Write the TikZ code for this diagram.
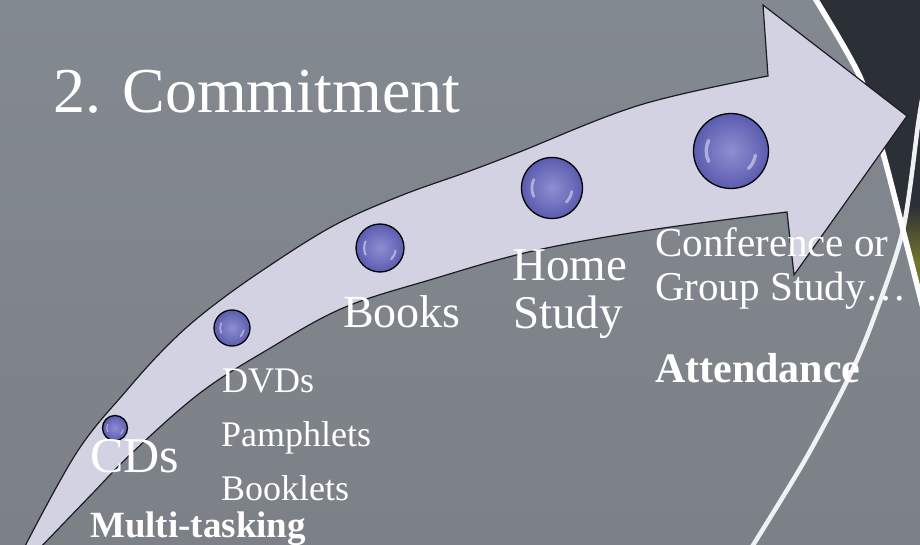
\documentclass[tikz,border=0pt]{standalone}
\usepackage{fontspec}
\setmainfont{Liberation Serif}
\usetikzlibrary{calc}
\definecolor{bgtop}{HTML}{838990}
\definecolor{bgbot}{HTML}{7C8187}
\definecolor{darkzone}{HTML}{2B2F36}
\definecolor{olive}{HTML}{74742C}
\definecolor{arrowfill}{HTML}{D2D2E2}
\definecolor{arrowline}{HTML}{1C1C24}
\definecolor{orbin}{HTML}{8E8ED2}
\definecolor{orbout}{HTML}{5C5CB0}
\tikzset{
  txt/.style={text=white, inner sep=0pt, anchor=base west},
  orb/.style={circle, draw=black, line width=1.3pt, inner sep=0pt,
    inner color=orbin, outer color=orbout},
  hl/.style={white, opacity=0.45, line cap=round},
  streak/.style={line cap=round},
}
\newcommand\orbnode[4]{%
  \node[orb, minimum size=2*#4] (#1) at (#2,#3) {};
  \draw[hl, line width=0.09*#4] ([shift={(155:0.66*#4)}]#1.center) arc[start angle=155, end angle=205, radius=0.66*#4];
  \draw[hl, line width=0.09*#4] ([shift={(10:0.66*#4)}]#1.center) arc[start angle=10, end angle=45, radius=0.66*#4];
}
\begin{document}
\begin{tikzpicture}[x=1pt,y=-1pt]
\useasboundingbox (0,0) rectangle (920,545);
% background
\shade[top color=bgtop, bottom color=bgbot] (0,0) rectangle (920,545);
% dark zone at the right
\begin{scope}
  \clip plot[smooth] coordinates {(813,-5) (860,77) (883,153) (903,230) (924,312)} -- (930,312) -- (930,-5) -- cycle;
  \fill[darkzone] (780,-5) rectangle (930,205);
  \shade[top color=darkzone, bottom color=olive] (780,205) rectangle (930,262);
  \shade[top color=olive, bottom color=olive!70!bgbot] (780,262) rectangle (930,320);
\end{scope}
% light curved lines
\draw[streak, white!88!bgtop, line width=4.5pt] plot[smooth] coordinates {(922,100) (918,125) (903,230) (875,315) (850,375) (805,460) (750,550)};
\draw[streak, white, line width=5.5pt] plot[smooth] coordinates {(813,-5) (860,77) (883,153) (903,230) (924,312)};
% the arrow
\draw[fill=arrowfill, draw=arrowline, line width=1.2pt, line join=miter]
  plot[smooth, tension=0.6] coordinates {(23,550) (77,452) (127,390) (167,346) (205,312) (260,272) (333,226) (400,196) (467,172) (517,153) (640,105) (768,76)}
  -- (763,5) -- (907,116) -- (794,275)
  -- plot[smooth, tension=0.6] coordinates {(787,212) (650,230) (533,251) (433,279) (343,308) (267,350) (200,393) (133,452) (90,496) (38,550)}
  -- cycle;
% spheres
\orbnode{s1}{115}{428}{12.5}
\orbnode{s2}{232}{328}{18}
\orbnode{s3}{380}{248}{24}
\orbnode{s4}{552}{188}{30.5}
\orbnode{s5}{731}{151}{37.5}
% texts
\node[txt, font=\fontsize{64}{64}\selectfont] (title) at (53,113) {2. Commitment};
\node[txt, font=\fontsize{50}{50}\selectfont] (cds) at (90,472) {CDs};
\node[txt, font=\fontsize{36}{36}\selectfont] (dvds) at (222,392) {DVDs};
\node[txt, font=\fontsize{36}{36}\selectfont] (pamph) at (221,446) {Pamphlets};
\node[txt, font=\fontsize{36}{36}\selectfont] (book) at (221,500) {Booklets};
\node[txt, font=\bfseries\fontsize{37}{37}\selectfont] (multi) at (90,537) {Multi-tasking};
\node[txt, font=\fontsize{46}{46}\selectfont] (books) at (343,327) {Books};
\node[txt, font=\fontsize{47}{47}\selectfont] (home) at (512,280) {Home};
\node[txt, font=\fontsize{47}{47}\selectfont] (study) at (513,328) {Study};
\node[txt, font=\fontsize{41}{41}\selectfont] (conf) at (655,257) {Conference or};
\node[txt, font=\fontsize{41}{41}\selectfont] (group) at (655,300) {Group Study…};
\node[txt, font=\bfseries\fontsize{42}{42}\selectfont] (attend) at (655,382) {Attendance};
\end{tikzpicture}
\end{document}
